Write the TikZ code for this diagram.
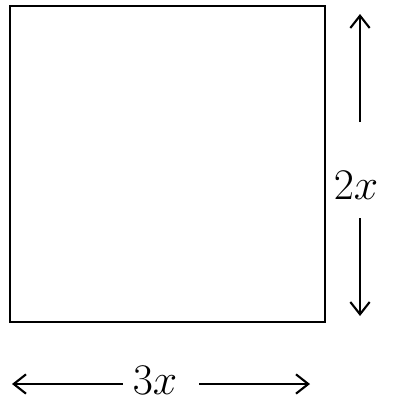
\documentclass[tikz,border=0pt]{standalone}
\usepackage{amsmath}
\usepackage{tikz}
\usetikzlibrary{arrows.meta}
\usetikzlibrary{positioning}

\begin{document}
\begin{tikzpicture}[x=0.02cm, y=-0.02cm, >={Straight Barb[length=7pt,width=11pt]}]
    \useasboundingbox (0,0) rectangle (401,409);
    \draw[line width=1.6pt] (10,6) rectangle (325,322);
    % side 2x
    \node (side) at (356,185) {\Huge $2x$};
    \coordinate (upend) at (360,14);
    \coordinate (downend) at (360,316);
    \draw[->, line width=1.2pt] (360,122) -- (upend);
    \draw[->, line width=1.2pt] (360,218) -- (downend);
    % base 3x
    \node (base) at (155,380) {\Huge $3x$};
    \coordinate (leftend) at (12,384);
    \coordinate (rightend) at (310,384);
    \draw[->, line width=1.2pt] (base.west) ++(-4,4) -- (leftend);
    \draw[->, line width=1.2pt] (base.east) ++(16,4) -- (rightend);
\end{tikzpicture}
\end{document}
